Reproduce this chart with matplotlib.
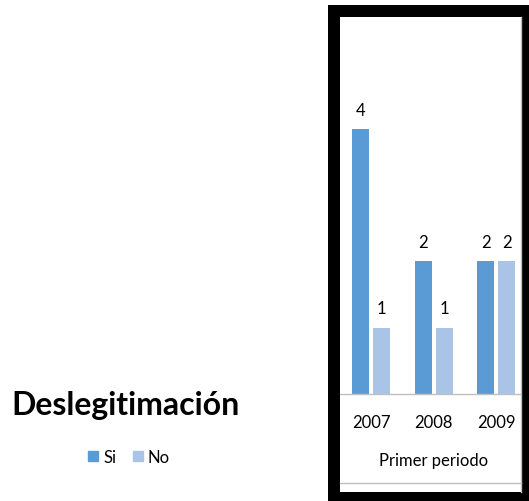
import matplotlib
matplotlib.use("Agg")
import matplotlib.pyplot as plt
from matplotlib.patches import Rectangle
from matplotlib.lines import Line2D
from matplotlib.transforms import blended_transform_factory
import numpy as np

# data
years = ["2007", "2008", "2009"]
si_values = [4, 2, 2]
no_values = [1, 1, 2]
series_names = ["Si", "No"]
title = "Deslegitimación"
group_label = "Primer periodo"

color_si = "#5B9BD5"
color_no = "#A9C4E6"
grid_gray = "#BFBFBF"

plt.rcParams["font.family"] = ["Lato", "DejaVu Sans"]

W, H = 529, 502
fig = plt.figure(figsize=(W / 100, H / 100), dpi=100)

def fx(px):
    return px / W

def fy(py):
    return 1 - py / H

ax = fig.add_axes([fx(340), fy(395), fx(521) - fx(340), fy(18) - fy(395)])
x = np.arange(len(years))
off, bw = 0.167, 0.27
bars_si = ax.bar(x - off, si_values, bw, color=color_si, label=series_names[0])
bars_no = ax.bar(x + off, no_values, bw, color=color_no, label=series_names[1])
for bars in (bars_si, bars_no):
    for b in bars:
        ax.annotate(f"{b.get_height():g}", (b.get_x() + b.get_width() / 2, b.get_height()),
                    xytext=(0, 14), textcoords="offset points",
                    ha="center", va="center", fontsize=12)

ax.set_xlim(-0.5, 2.397)
ax.set_ylim(0, 5.69)
ax.set_yticks([])
ax.set_xticks(x, years, fontsize=12)
ax.tick_params(axis="x", length=0, pad=14.5)
for s in ("top", "left", "right"):
    ax.spines[s].set_visible(False)
ax.spines["bottom"].set_color(grid_gray)
ax.spines["bottom"].set_linewidth(1)

trans = blended_transform_factory(ax.transData, fig.transFigure)
ax.text(1, fy(461), group_label, transform=trans, ha="center", va="center", fontsize=12)

# chart frame lines
fig.add_artist(Line2D([fx(340), fx(521)], [fy(484), fy(484)], color=grid_gray, lw=1))
fig.add_artist(Line2D([fx(521), fx(521)], [fy(18), fy(493)], color=grid_gray, lw=1))

# thick black border
fig.add_artist(Rectangle((fx(334), fy(499.3)), fx(528) - fx(334), fy(12.2) - fy(499.3),
                         transform=fig.transFigure, fill=False, edgecolor="black",
                         linewidth=12 * 0.72, joinstyle="miter"))

# title and legend on the left
fig.text(fx(126), fy(406), title, ha="center", va="center", fontsize=23, fontweight="bold")
handles = [Rectangle((0, 0), 1, 1, color=color_si), Rectangle((0, 0), 1, 1, color=color_no)]
fig.legend(handles, series_names, loc="center", bbox_to_anchor=(fx(129), fy(458)),
           ncol=2, frameon=False, fontsize=12, handlelength=0.6, handleheight=0.6,
           handletextpad=0.3, columnspacing=1.0)

fig.savefig("out.png", dpi=100)
